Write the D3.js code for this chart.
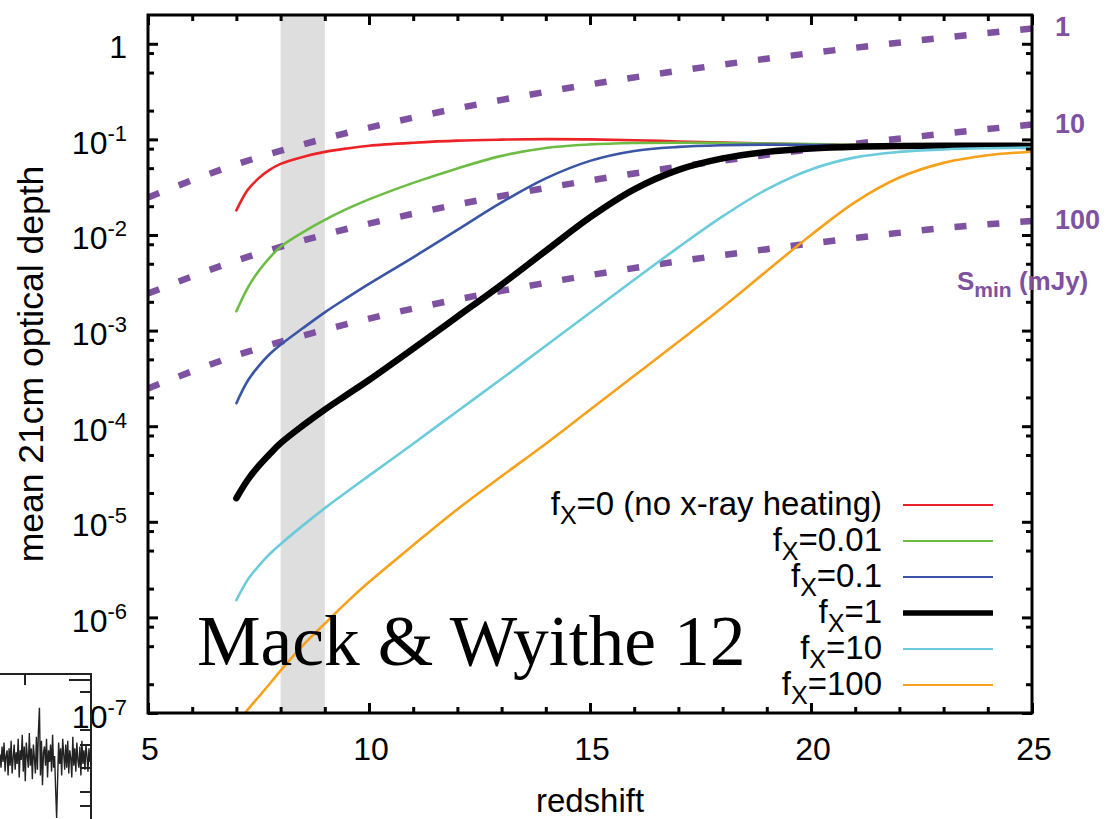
<!DOCTYPE html>
<html><head><meta charset="utf-8">
<script src="https://cdn.jsdelivr.net/npm/d3@7"></script>
<style>
body{margin:0;background:#fff}
svg{display:block}
</style>
</head><body>
<svg id="chart" width="1106" height="819"></svg>
<script>
// ---------------- data ----------------
const redshift = [7,7.25,7.5,7.75,8,8.5,9,9.5,10,11,12,13,14,15,16,17,18,19,20,21,22,23,24,25];
const tauFx0    = [0.0181,0.0293,0.0391,0.048,0.0554,0.0656,0.074,0.0804,0.0859,0.0923,0.0971,0.0994,0.1006,0.0999,0.098,0.0952,0.0925,0.0903,0.0886,0.0873,0.0865,0.0858,0.0852,0.0848];
const tauFx001  = [1.59e-3,2.77e-3,4.17e-3,5.77e-3,7.52e-3,0.01066,0.0144,0.01875,0.02358,0.0351,0.0497,0.0672,0.0814,0.0886,0.0917,0.0923,0.0917,0.0903,0.0891,0.0879,0.0869,0.0858,0.0852,0.0848];
const tauFx01   = [1.74e-4,2.95e-4,4.23e-4,5.65e-4,7.11e-4,1.057e-3,1.553e-3,2.20e-3,3.08e-3,5.84e-3,0.01132,0.02194,0.0391,0.0596,0.0757,0.0834,0.0869,0.0882,0.0875,0.0865,0.0860,0.0853,0.085,0.0844];
const tauFx1    = [1.767e-5,2.72e-5,3.82e-5,5.09e-5,6.64e-5,1.012e-4,1.49e-4,2.13e-4,3.04e-4,6.48e-4,1.40e-3,3.03e-3,6.83e-3,0.01529,0.030,0.048,0.0633,0.0740,0.0804,0.0838,0.0852,0.0857,0.0857,0.0855];
const tauFx10   = [1.518e-6,2.455e-6,3.44e-6,4.59e-6,5.84e-6,9.12e-6,1.39e-5,2.065e-5,3.04e-5,6.56e-5,1.434e-4,3.13e-4,6.94e-4,1.535e-3,3.40e-3,7.43e-3,0.01566,0.030,0.0485,0.0648,0.0740,0.0785,0.0808,0.082];
const tauFx100  = [7.7e-8,1.074e-7,1.469e-7,2.01e-7,2.78e-7,5.08e-7,8.62e-7,1.445e-6,2.34e-6,5.70e-6,1.355e-5,3.0e-5,6.56e-5,1.487e-4,3.37e-4,7.64e-4,1.752e-3,4.20e-3,0.01,0.0221,0.0399,0.0568,0.0683,0.0743];

const seriesNames  = ["fx0","fx001","fx01","fx1","fx10","fx100"];
const legendMain   = ["=0 (no x-ray heating)","=0.01","=0.1","=1","=10","=100"];
const seriesColors = ["#ec2227","#6dbd45","#3a55a5","#000000","#6ccbdb","#f7a11b"];

// minimum detectable flux lines S_min (mJy)
const sminRedshift = [5,7,9,11,13,15,17,19,21,23,25];
const smin1   = [0.0247,0.0548,0.102,0.169,0.259,0.376,0.521,0.698,0.909,1.158,1.445];
const smin10  = [0.00244,0.0054,0.0101,0.0167,0.0256,0.0372,0.0516,0.069,0.090,0.1146,0.143];
const smin100 = [0.000248,0.00055,0.00102,0.0017,0.0026,0.0038,0.0053,0.0071,0.0093,0.0118,0.0140];
const sminLabels = ["1","10","100"];

const band = [8, 9];
const xMajorTicks = [5,10,15,20,25];
const yDecades = [0,-1,-2,-3,-4,-5,-6,-7];

// fragment of the neighbouring panel (bottom-left)
const insetSignal = [6,-8,14,-2,18,-12,4,10,-16,12,-6,20,-14,2,16,-10,8,-4,22,-18,10,0,26,-12,14,-22,18,4,-8,28,-6,12,-20,16,2,-14,24,-10,30,54,-16,20,-26,8,14,-6,22,-18,10,-2,16,-12,26,-8,4,-30,-60,-20,18,-4,12,-16,22,6,-10,16,-8,20,-14,10,2,-18,24,-6,12,-12,18,0,-8,14,-16,20,-4,10,-10,16,4,-12,12,-2];

// ---------------- layout ----------------
const SANS = "'Liberation Sans', Arial, Helvetica, sans-serif";
const SERIF = "'Liberation Serif', 'Times New Roman', serif";
const svg = d3.select("#chart").style("font-family", SANS);
const L = 148, R = 1032, T = 15, B = 713;
const x = d3.scaleLinear().domain([5,25]).range([L,R]);
const y = d3.scaleLog().domain([1e-7,2]).range([B,T]);
const purple = "#7e51a1";

svg.append("defs").append("clipPath").attr("id","plotclip")
  .append("rect").attr("x",L).attr("y",T).attr("width",R-L).attr("height",B-T);

// grey band
svg.append("rect").attr("x",x(band[0])).attr("y",T).attr("width",x(band[1])-x(band[0])).attr("height",B-T)
  .attr("fill","#dedede");

const plot = svg.append("g").attr("clip-path","url(#plotclip)");

// S_min dashed lines
const sminSets = [smin1, smin10, smin100];
const lineS = d3.line().x(d=>x(d[0])).y(d=>y(d[1])).curve(d3.curveMonotoneX);
sminSets.forEach(vals=>{
  plot.append("path").datum(sminRedshift.map((z,i)=>[z,vals[i]]))
    .attr("d",lineS).attr("fill","none").attr("stroke",purple)
    .attr("stroke-width",6.5).attr("stroke-dasharray","12,21");
});

// curves
const allTau = [tauFx0,tauFx001,tauFx01,tauFx1,tauFx10,tauFx100];
const lineT = d3.line().x(d=>x(d[0])).y(d=>y(d[1])).curve(d3.curveCatmullRom.alpha(0.5));
allTau.forEach((vals,k)=>{
  plot.append("path").datum(redshift.map((z,i)=>[z,vals[i]]))
    .attr("d",lineT).attr("fill","none").attr("stroke",seriesColors[k])
    .attr("stroke-width", k===3 ? 6.5 : 2.6).attr("stroke-linejoin","round").attr("stroke-linecap","round");
});

// ---------------- axes ----------------
function tickGroup(axis, tr, values, len){
  const g = svg.append("g").attr("transform",tr)
    .call(axis.tickValues(values).tickSize(-len).tickFormat(""));
  g.select(".domain").remove();
  g.selectAll("line").attr("stroke","#000").attr("stroke-width",3);
  g.selectAll("text").remove();
}
const xMinor = d3.range(5,26).filter(v=>!xMajorTicks.includes(v));
tickGroup(d3.axisBottom(x), `translate(0,${B})`, xMajorTicks, 10);
tickGroup(d3.axisBottom(x), `translate(0,${B})`, xMinor, 6);
tickGroup(d3.axisTop(x), `translate(0,${T})`, xMajorTicks, 10);
tickGroup(d3.axisTop(x), `translate(0,${T})`, xMinor, 6);
const yMajor = yDecades.map(e=>Math.pow(10,e));
const yMinor = [];
yDecades.forEach(e=>[2,5,8].forEach(m=>{const v=m*Math.pow(10,e); if(v<2) yMinor.push(v);}));
tickGroup(d3.axisLeft(y), `translate(${L},0)`, yMajor, 10);
tickGroup(d3.axisLeft(y), `translate(${L},0)`, yMinor, 6);
tickGroup(d3.axisRight(y), `translate(${R},0)`, yMajor, 10);
tickGroup(d3.axisRight(y), `translate(${R},0)`, yMinor, 6);

// frame
svg.append("rect").attr("x",L).attr("y",T).attr("width",R-L).attr("height",B-T)
  .attr("fill","none").attr("stroke","#000").attr("stroke-width",3);

// x tick labels
svg.append("g").selectAll("text").data(xMajorTicks).join("text")
  .attr("x",d=>x(d)+2).attr("y",B+47).attr("text-anchor","middle")
  .attr("font-size",32).text(d=>d);

// y tick labels
const yl = svg.append("g");
yDecades.forEach(e=>{
  const t = yl.append("text").attr("x",127).attr("y",y(Math.pow(10,e))+14.5)
    .attr("text-anchor","end").attr("font-size",32);
  if(e===0){ t.text("1"); }
  else {
    t.append("tspan").text("10");
    t.append("tspan").attr("font-size",22).attr("dy",-13).text(String(e));
  }
});

// axis titles
svg.append("text").attr("x",(L+R)/2).attr("y",812).attr("text-anchor","middle")
  .attr("font-size",33).text("redshift");
svg.append("text").attr("transform","translate(43,364) rotate(-90)").attr("text-anchor","middle")
  .attr("font-size",35.5).text("mean 21cm optical depth");

// S_min labels on the right (at the line ends)
sminSets.forEach((vals,i)=>{
  svg.append("text").attr("x",1055).attr("y",y(vals[vals.length-1])+8)
    .attr("font-size",27).attr("font-weight","bold").attr("fill",purple).text(sminLabels[i]);
});
const st = svg.append("text").attr("x",957).attr("y",290).attr("font-size",26)
  .attr("font-weight","bold").attr("fill",purple);
st.append("tspan").text("S");
st.append("tspan").attr("font-size",21).attr("dy",7).text("min");
st.append("tspan").attr("dy",-7).text(" (mJy)");

// legend
const legY0 = 505, legDy = 36;
seriesNames.forEach((n,k)=>{
  const yy = legY0 + k*legDy;
  const t = svg.append("text").attr("x",882).attr("y",yy+10).attr("text-anchor","end").attr("font-size",33);
  t.append("tspan").text("f");
  t.append("tspan").attr("font-size",25).attr("dy",9).text("X");
  t.append("tspan").attr("dy",-9).text(legendMain[k]);
  svg.append("line").attr("x1",903).attr("x2",993).attr("y1",yy).attr("y2",yy)
    .attr("stroke",seriesColors[k]).attr("stroke-width",k===3?5.5:2.2);
});

// annotation
svg.append("text").attr("x",197).attr("y",665).style("font-family",SERIF)
  .attr("font-size",71.5).text("Mack & Wyithe 12");

// ---------------- neighbouring panel fragment ----------------
const ix = d3.scaleLinear().domain([0,insetSignal.length-1]).range([0,90]);
const iy = d3.scaleLinear().domain([-60,60]).range([818,702]);
svg.append("path").datum(insetSignal)
  .attr("d",d3.line().x((d,i)=>ix(i)).y(d=>iy(d)))
  .attr("fill","none").attr("stroke","#222").attr("stroke-width",1.4);
svg.append("path").attr("d","M0,674H91V819").attr("fill","none").attr("stroke","#222").attr("stroke-width",2);
svg.append("line").attr("x1",25).attr("x2",25).attr("y1",674).attr("y2",685).attr("stroke","#222").attr("stroke-width",2);
[[680,22],[692,11],[730,11],[745,11],[768,11],[792,11],[806,11]].forEach(d=>{
  svg.append("line").attr("x1",91-d[1]).attr("x2",91).attr("y1",d[0]).attr("y2",d[0]).attr("stroke","#222").attr("stroke-width",2);
});
svg.append("text").attr("x",-10).attr("y",650).attr("font-size",30).text(")");
</script>
</body></html>
